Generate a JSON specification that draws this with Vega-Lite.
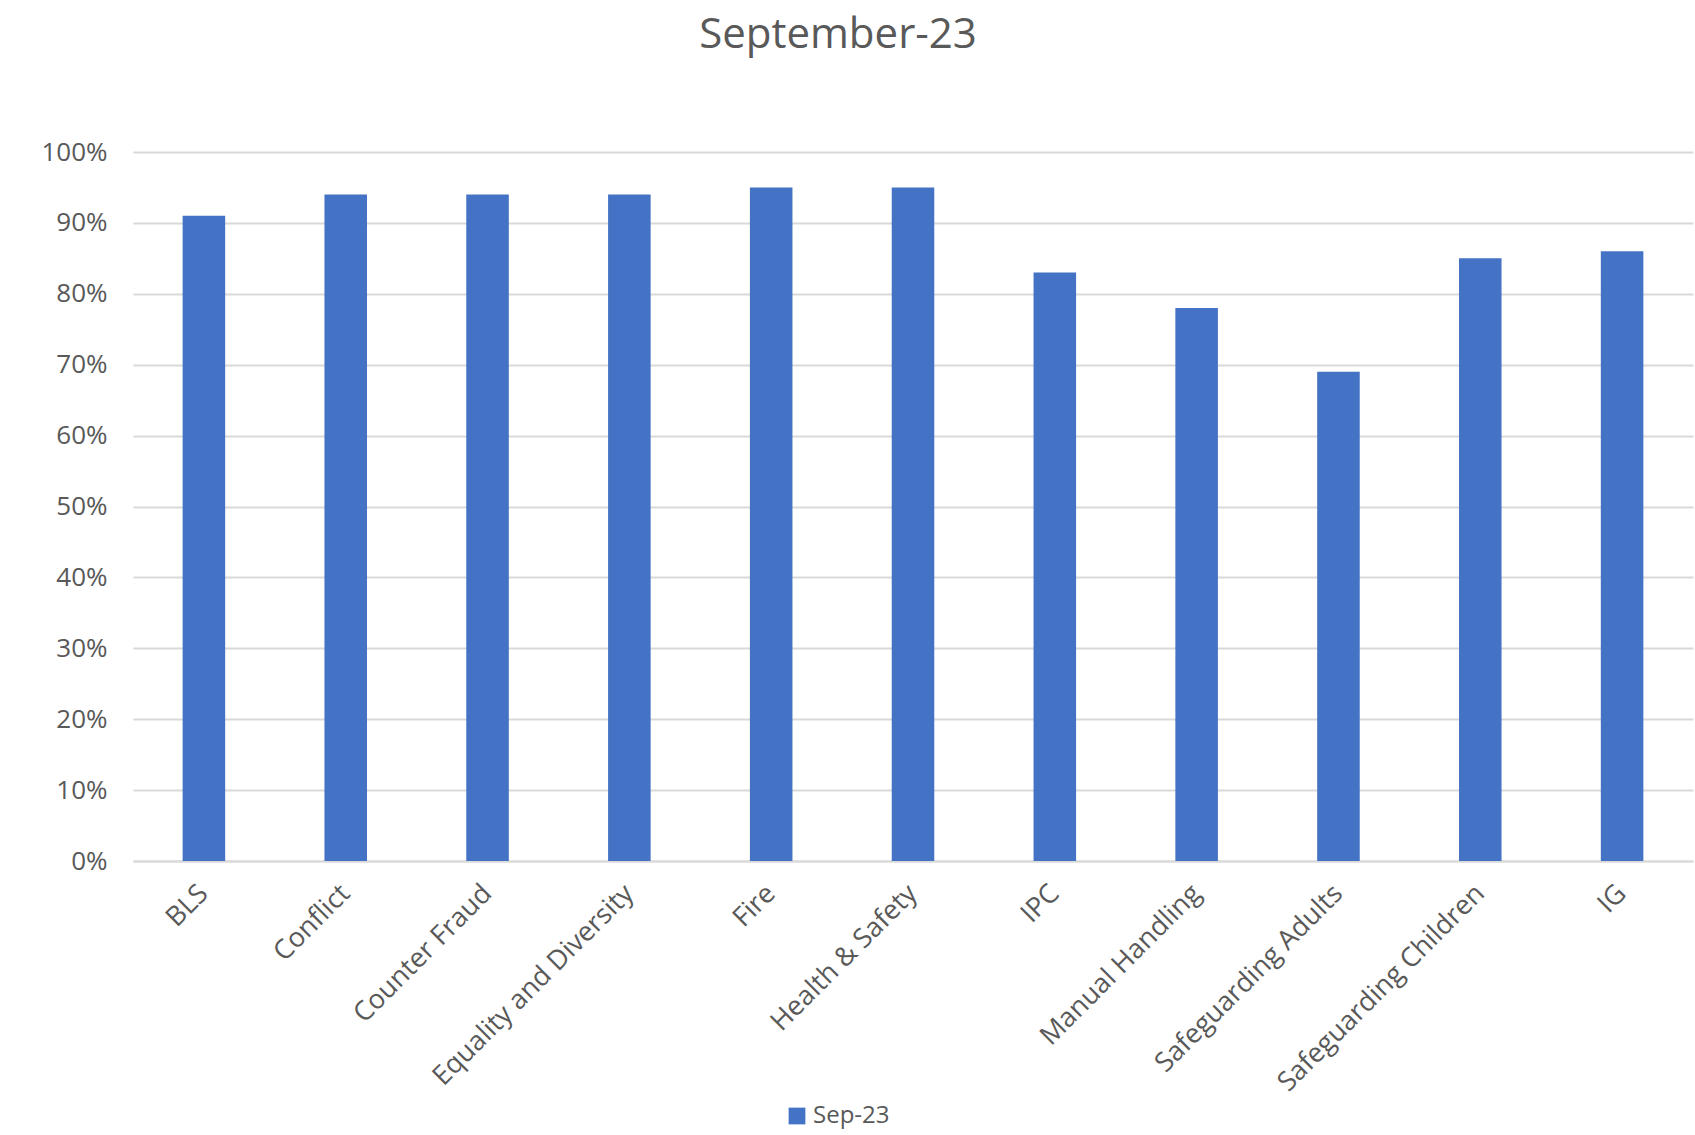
{
  "$schema": "https://vega.github.io/schema/vega-lite/v6.json",
  "autosize": "none",
  "width": 1560,
  "height": 709,
  "padding": {"left": 133, "top": 152, "right": 2, "bottom": 274},
  "background": "white",
  "title": {
    "text": "September-23",
    "fontSize": 42,
    "font": "Open Sans",
    "fontWeight": "normal",
    "color": "#595959",
    "anchor": "middle",
    "dx": -75,
    "offset": 82
  },
  "config": {
    "view": {"stroke": null},
    "font": "Open Sans"
  },
  "data": {
    "values": [
      {"Course": "BLS", "Value": 0.91, "Series": "Sep-23"},
      {"Course": "Conflict", "Value": 0.94, "Series": "Sep-23"},
      {"Course": "Counter Fraud", "Value": 0.94, "Series": "Sep-23"},
      {"Course": "Equality and Diversity", "Value": 0.94, "Series": "Sep-23"},
      {"Course": "Fire", "Value": 0.95, "Series": "Sep-23"},
      {"Course": "Health & Safety", "Value": 0.95, "Series": "Sep-23"},
      {"Course": "IPC", "Value": 0.83, "Series": "Sep-23"},
      {"Course": "Manual Handling", "Value": 0.78, "Series": "Sep-23"},
      {"Course": "Safeguarding Adults", "Value": 0.69, "Series": "Sep-23"},
      {"Course": "Safeguarding Children", "Value": 0.85, "Series": "Sep-23"},
      {"Course": "IG", "Value": 0.86, "Series": "Sep-23"}
    ]
  },
  "mark": {"type": "bar"},
  "encoding": {
    "x": {
      "field": "Course",
      "type": "nominal",
      "sort": null,
      "scale": {"paddingInner": 0.7, "paddingOuter": 0.35},
      "axis": {
        "title": null,
        "labelAngle": -45,
        "labelAlign": "right",
        "labelBaseline": "middle",
        "labelFontSize": 27,
        "labelColor": "#595959",
        "labelPadding": 28,
        "labelLimit": 0,
        "ticks": false,
        "domainColor": "#D9D9D9",
        "domainWidth": 2,
        "grid": false
      }
    },
    "y": {
      "field": "Value",
      "type": "quantitative",
      "scale": {"domain": [0, 1]},
      "axis": {
        "title": null,
        "format": ".0%",
        "values": [0, 0.1, 0.2, 0.3, 0.4, 0.5, 0.6, 0.7, 0.8, 0.9, 1],
        "labelFontSize": 26,
        "labelColor": "#595959",
        "labelPadding": 26,
        "ticks": false,
        "domain": false,
        "gridColor": "#D9D9D9",
        "gridWidth": 2
      }
    },
    "color": {
      "field": "Series",
      "type": "nominal",
      "scale": {"range": ["#4472C4"]},
      "legend": {
        "title": null,
        "orient": "none",
        "legendX": 652,
        "legendY": 952,
        "symbolType": "square",
        "symbolSize": 280,
        "labelFontSize": 24,
        "labelColor": "#595959"
      }
    }
  }
}
